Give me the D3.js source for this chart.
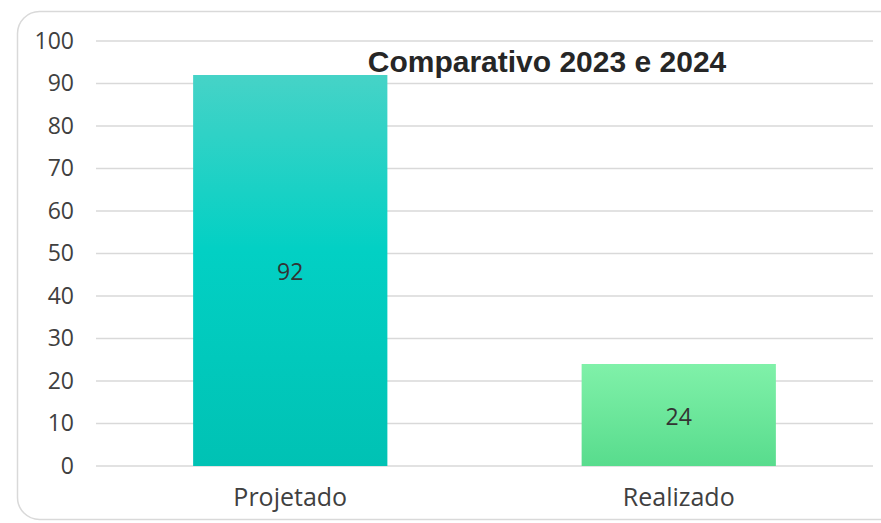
<!DOCTYPE html>
<html><head><meta charset="utf-8">
<script src="https://cdn.jsdelivr.net/npm/d3@7"></script>
<style>body{margin:0;background:#fff;}svg{display:block;}</style>
</head><body>
<script>
const categories = ["Projetado", "Realizado"];
const values = [92, 24];
const yTicks = [0,10,20,30,40,50,60,70,80,90,100];
const title = "Comparativo 2023 e 2024";

const W = 881, H = 523;
const svg = d3.select("body").append("svg").attr("width", W).attr("height", H);
const defs = svg.append("defs");
const g1 = defs.append("linearGradient").attr("id","gA").attr("x1",0).attr("x2",0).attr("y1",0).attr("y2",1);
g1.append("stop").attr("offset","0%").attr("stop-color","#46d3c7");
g1.append("stop").attr("offset","45%").attr("stop-color","#02d0c4");
g1.append("stop").attr("offset","100%").attr("stop-color","#00c2b4");
const g2 = defs.append("linearGradient").attr("id","gB").attr("x1",0).attr("x2",0).attr("y1",0).attr("y2",1);
g2.append("stop").attr("offset","0%").attr("stop-color","#80f1a9");
g2.append("stop").attr("offset","100%").attr("stop-color","#58dc8d");
const fills = ["url(#gA)","url(#gB)"];

svg.append("rect").attr("x",17.5).attr("y",11.5).attr("width",900).attr("height",508)
  .attr("rx",22).attr("fill","#fff").attr("stroke","#d9d9d9").attr("stroke-width",1.5);

const x = d3.scaleBand().domain(categories).range([96, 873]).paddingInner(0.5).paddingOuter(0.25);
const y = d3.scaleLinear().domain([0,100]).range([466, 41]);

const font = "'Open Sans', 'Lato', sans-serif";

svg.append("g").selectAll("line").data(yTicks).join("line")
  .attr("x1",96).attr("x2",873).attr("y1",d=>y(d)).attr("y2",d=>y(d))
  .attr("stroke","#d9d9d9").attr("stroke-width",1.5);

const ya = svg.append("g").attr("transform","translate(80,0)")
  .call(d3.axisLeft(y).tickValues(yTicks).tickSize(0).tickPadding(6));
ya.select(".domain").remove();
ya.selectAll("text").attr("font-family",font).attr("font-size",23).attr("fill","#404040");

svg.append("g").selectAll("rect").data(values).join("rect")
  .attr("x",(d,i)=>x(categories[i])).attr("width",x.bandwidth())
  .attr("y",d=>y(d)).attr("height",d=>y(0)-y(d)).attr("fill",(d,i)=>fills[i]);

svg.append("g").selectAll("text").data(values).join("text")
  .attr("x",(d,i)=>x(categories[i])+x.bandwidth()/2).attr("y",d=>(y(d)+y(0))/2)
  .attr("dy","0.43em")
  .attr("text-anchor","middle").attr("font-family",font).attr("font-size",23).attr("fill","#333")
  .text(d=>d);

const xa = svg.append("g").attr("transform","translate(0,466)")
  .call(d3.axisBottom(x).tickSize(0).tickPadding(22));
xa.select(".domain").remove();
xa.selectAll("text").attr("font-family",font).attr("font-size",25).attr("fill","#404040");

svg.append("text").attr("x",547).attr("y",72).attr("text-anchor","middle")
  .attr("font-family","'Liberation Sans', Arial, sans-serif").attr("font-weight","bold")
  .attr("font-size",30).attr("fill","#262626").text(title);
</script>
</body></html>
